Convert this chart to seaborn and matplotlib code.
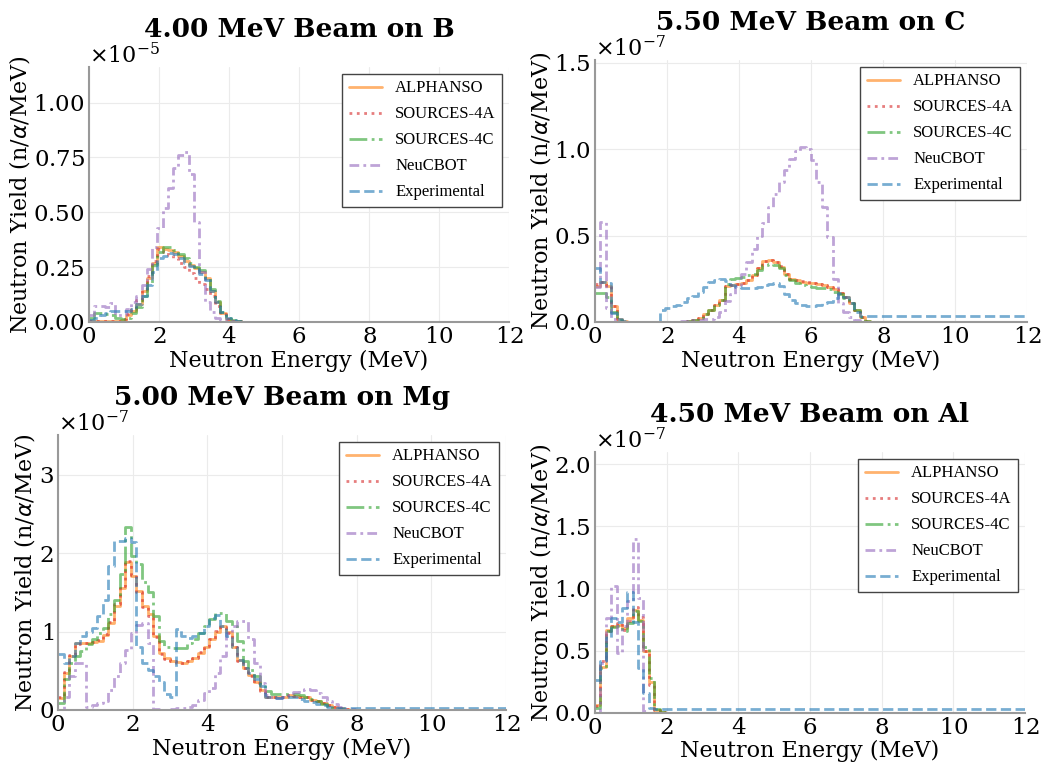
import numpy as np
import pandas as pd
import matplotlib
matplotlib.use("Agg")
import matplotlib.pyplot as plt
import seaborn as sns

# ---------------- data (bin width 0.15 MeV starting at 0; last value extends to 12 MeV) ----
BIN_WIDTH = 0.15
E_MAX = 12.0
series_names = ["ALPHANSO", "SOURCES-4A", "SOURCES-4C", "NeuCBOT", "Experimental"]
titles = ["4.00 MeV Beam on B", "5.50 MeV Beam on C", "5.00 MeV Beam on Mg", "4.50 MeV Beam on Al"]
scales = [1e-5, 1e-7, 1e-7, 1e-7]
yticks_list = [[0, 0.25, 0.5, 0.75, 1.0], [0, 0.5, 1.0, 1.5], [0, 1, 2, 3], [0, 0.5, 1.0, 1.5, 2.0]]
xticks = [0, 2, 4, 6, 8, 10, 12]

# Boron (x1e-5)
b_alphanso = [0.005, 0.005, 0.005, 0.005, 0.005, 0.005, 0.01, 0.03, 0.05, 0.08, 0.14, 0.20, 0.27,
              0.34, 0.335, 0.33, 0.32, 0.30, 0.28, 0.26, 0.245, 0.23, 0.20, 0.142, 0.09, 0.04,
              0.015, 0.006, 0.003, 0.002, 0.0]
b_s4a = [0.005, 0.005, 0.005, 0.005, 0.005, 0.005, 0.015, 0.035, 0.06, 0.10, 0.15, 0.21, 0.28,
         0.335, 0.32, 0.305, 0.29, 0.27, 0.25, 0.225, 0.20, 0.175, 0.15, 0.12, 0.075, 0.035,
         0.012, 0.005, 0.003, 0.002, 0.0]
b_s4c = [0.02, 0.04, 0.04, 0.035, 0.03, 0.02, 0.015, 0.02, 0.04, 0.07, 0.12, 0.18, 0.26,
         0.32, 0.34, 0.34, 0.33, 0.31, 0.29, 0.27, 0.25, 0.235, 0.20, 0.15, 0.095, 0.045,
         0.018, 0.007, 0.003, 0.002, 0.0]
b_neucbot = [0.03, 0.075, 0.075, 0.07, 0.085, 0.03, 0.03, 0.06, 0.09, 0.12, 0.17, 0.24, 0.34,
             0.43, 0.52, 0.61, 0.70, 0.76, 0.775, 0.675, 0.456, 0.23, 0.09, 0.045, 0.02, 0.01,
             0.005, 0.003, 0.0]
b_exp = [0.01, 0.02, 0.03, 0.04, 0.05, 0.05, 0.05, 0.05, 0.06, 0.08, 0.12, 0.17, 0.23,
         0.29, 0.30, 0.315, 0.31, 0.29, 0.27, 0.255, 0.24, 0.22, 0.19, 0.14, 0.09, 0.045,
         0.02, 0.008, 0.004, 0.002, 0.0]

# Carbon (x1e-7)
c_alphanso = [0.21, 0.23, 0.21, 0.09, 0.015, 0.003, 0, 0, 0, 0, 0, 0, 0, 0, 0, 0, 0,
              0.005, 0.012, 0.025, 0.045, 0.07, 0.10, 0.13, 0.21, 0.215, 0.22, 0.225, 0.24,
              0.27, 0.31, 0.35, 0.357, 0.345, 0.32, 0.28, 0.25, 0.24, 0.232, 0.228, 0.223,
              0.219, 0.213, 0.204, 0.19, 0.165, 0.146, 0.108, 0.07, 0.03, 0.005, 0.0]
c_s4a = [0.22, 0.23, 0.215, 0.09, 0.015, 0.003, 0, 0, 0, 0, 0, 0, 0, 0, 0, 0, 0,
         0.005, 0.012, 0.025, 0.045, 0.07, 0.10, 0.13, 0.21, 0.215, 0.22, 0.228, 0.24,
         0.27, 0.315, 0.35, 0.36, 0.345, 0.325, 0.28, 0.25, 0.242, 0.235, 0.23, 0.225,
         0.22, 0.215, 0.205, 0.19, 0.165, 0.146, 0.108, 0.07, 0.03, 0.005, 0.0]
c_s4c = [0.165, 0.165, 0.146, 0.06, 0.01, 0.002, 0, 0, 0, 0, 0, 0, 0, 0, 0, 0, 0,
         0.005, 0.012, 0.025, 0.045, 0.07, 0.10, 0.13, 0.22, 0.25, 0.255, 0.26, 0.27,
         0.28, 0.30, 0.33, 0.338, 0.33, 0.31, 0.27, 0.24, 0.223, 0.213, 0.207, 0.204,
         0.198, 0.194, 0.188, 0.175, 0.16, 0.136, 0.108, 0.07, 0.03, 0.005, 0.0]
c_neucbot = [0.2, 0.58, 0.08, 0.02, 0, 0, 0, 0, 0, 0, 0, 0, 0, 0, 0, 0,
             0.005, 0.008, 0.01, 0.012, 0.015, 0.02, 0.03, 0.06, 0.12, 0.16, 0.21, 0.28,
             0.348, 0.42, 0.50, 0.575, 0.665, 0.74, 0.81, 0.88, 0.94, 0.99, 1.01, 1.0,
             0.935, 0.81, 0.665, 0.49, 0.25, 0.108, 0.06, 0.03, 0.01, 0.0]
c_exp = [0.31, 0.23, 0.227, 0.05, 0.015, 0.003, 0, 0, 0, 0, 0, 0,
         0.07, 0.08, 0.09, 0.10, 0.117, 0.136, 0.15, 0.175, 0.20, 0.23, 0.245, 0.25,
         0.235, 0.213, 0.20, 0.196, 0.196, 0.198, 0.205, 0.213, 0.218, 0.223, 0.21, 0.16,
         0.13, 0.11, 0.10, 0.095, 0.095, 0.10, 0.108, 0.117, 0.136, 0.165, 0.145, 0.108,
         0.06, 0.035]

# Magnesium (x1e-7)
mg_alphanso = [0.15, 0.47, 0.69, 0.85, 0.85, 0.86, 0.87, 0.88, 0.96, 1.11, 1.33, 1.56, 1.885,
               1.71, 1.52, 1.33, 1.22, 0.94, 0.73, 0.66, 0.63, 0.61, 0.60, 0.62, 0.66, 0.73,
               0.81, 0.90, 1.00, 1.07, 0.99, 0.81, 0.64, 0.54, 0.45, 0.36, 0.25, 0.17, 0.16,
               0.16, 0.17, 0.19, 0.18, 0.17, 0.16, 0.13, 0.11, 0.09, 0.06, 0.04, 0.02, 0.01,
               0.005, 0.0]
mg_s4a = [0.16, 0.48, 0.70, 0.84, 0.85, 0.86, 0.87, 0.89, 0.97, 1.12, 1.35, 1.58, 1.90,
          1.72, 1.50, 1.32, 1.20, 0.93, 0.72, 0.65, 0.62, 0.60, 0.60, 0.62, 0.67, 0.74,
          0.82, 0.91, 1.01, 1.06, 0.98, 0.80, 0.63, 0.53, 0.44, 0.35, 0.24, 0.17, 0.16,
          0.16, 0.17, 0.19, 0.18, 0.17, 0.16, 0.13, 0.11, 0.09, 0.06, 0.04, 0.02, 0.01,
          0.005, 0.0]
mg_s4c = [0.085, 0.39, 0.60, 0.69, 0.75, 0.84, 0.90, 0.985, 1.05, 1.22, 1.41, 1.74, 2.34,
          1.97, 1.86, 1.63, 1.50, 1.20, 0.88, 0.81, 0.79, 0.79, 0.79, 0.86, 0.90, 0.985,
          1.07, 1.16, 1.24, 1.24, 1.135, 1.07, 0.88, 0.62, 0.51, 0.43, 0.32, 0.24, 0.21,
          0.20, 0.20, 0.21, 0.20, 0.19, 0.17, 0.14, 0.11, 0.08, 0.05, 0.03, 0.015, 0.006,
          0.0]
mg_neucbot = [0.0, 0.17, 0.43, 0.60, 0.60, 0.04, 0.07, 0.09, 0.12, 0.26, 0.43, 0.60, 0.77,
              0.985, 1.09, 1.11, 0.86, 0.01, 0.005, 0.005, 0.01, 0.02, 0.03, 0.04, 0.06,
              0.13, 0.22, 0.28, 0.47, 0.69, 0.985, 1.07, 1.135, 1.135, 0.90, 0.60, 0.35,
              0.19, 0.16, 0.15, 0.17, 0.19, 0.235, 0.257, 0.265, 0.257, 0.22, 0.17, 0.12,
              0.077, 0.034, 0.017, 0.008, 0.0]
mg_exp = [0.71, 0.60, 0.69, 0.86, 0.94, 1.00, 1.05, 1.20, 1.41, 1.84, 2.16, 2.16, 2.19,
          2.14, 0.80, 0.60, 0.51, 0.43, 0.36, 0.21, 0.17, 1.03, 0.94, 0.92, 0.94, 0.985,
          1.07, 1.18, 1.21, 1.07, 0.94, 0.81, 0.64, 0.54, 0.47, 0.39, 0.30, 0.17, 0.16,
          0.15, 0.16, 0.17, 0.16, 0.14, 0.12, 0.10, 0.08, 0.06, 0.04, 0.02]

# Aluminium (x1e-7)
al_alphanso = [0.062, 0.37, 0.67, 0.70, 0.707, 0.68, 0.76, 0.83, 0.75, 0.50, 0.25, 0.02, 0.005, 0.0]
al_s4a = [0.05, 0.42, 0.66, 0.70, 0.72, 0.67, 0.74, 0.85, 0.77, 0.50, 0.22, 0.02, 0.005, 0.0]
al_s4c = [0.04, 0.36, 0.66, 0.69, 0.70, 0.66, 0.72, 0.82, 0.74, 0.53, 0.28, 0.03, 0.005, 0.0]
al_neucbot = [0.0, 0.40, 0.76, 1.02, 0.48, 0.70, 0.90, 1.40, 0.92, 0.01, 0.0]
al_exp = [0.26, 0.42, 0.60, 0.76, 0.73, 0.84, 0.975, 0.73, 0.36, 0.155, 0.035, 0.03]

panels = [
    [b_alphanso, b_s4a, b_s4c, b_neucbot, b_exp],
    [c_alphanso, c_s4a, c_s4c, c_neucbot, c_exp],
    [mg_alphanso, mg_s4a, mg_s4c, mg_neucbot, mg_exp],
    [al_alphanso, al_s4a, al_s4c, al_neucbot, al_exp],
]

# ---------------- styling ----------------
sns.set_theme(style="whitegrid")
plt.rcParams["font.family"] = ["DejaVu Serif"]
plt.rcParams["mathtext.fontset"] = "dejavusans"
plt.rcParams["axes.formatter.use_mathtext"] = True
for key in ["text.color", "axes.labelcolor", "xtick.color", "ytick.color"]:
    plt.rcParams[key] = "black"

colors = ["#ff7f0e", "#d62728", "#2ca02c", "#9467bd", "#1f77b4"]
linestyles = ["-", ":", "-.", (0, (3.5, 1.5, 1, 1.5)), "--"]

fig = plt.figure(figsize=(10.46, 7.69), dpi=100)
W, H = 1046, 769
rects = [
    (89, 67, 509, 322),
    (595, 60, 1027, 322),
    (58, 435, 506, 710),
    (595, 452, 1025, 712.7),
]

for k, (l, t, r, b) in enumerate(rects):
    ax = fig.add_axes([l / W, (H - b) / H, (r - l) / W, (b - t) / H])
    sc = scales[k]
    ymax = 0
    for name, vals, col, ls in zip(series_names, panels[k], colors, linestyles):
        xs = [i * BIN_WIDTH for i in range(len(vals))] + [E_MAX]
        ys = [v * sc for v in vals] + [vals[-1] * sc]
        df = pd.DataFrame({"E": xs, "Y": ys})
        sns.lineplot(data=df, x="E", y="Y", ax=ax, drawstyle="steps-post",
                     color=col, linestyle=ls, linewidth=2, alpha=0.6, label=name,
                     sort=False, errorbar=None)
        ymax = max(ymax, max(vals) * sc)
    ax.set_xlim(0, 12)
    ax.set_ylim(0, 1.5 * ymax)
    ax.set_xticks(xticks)
    ax.set_yticks([v * sc for v in yticks_list[k]])
    ax.tick_params(labelsize=16.5, length=0, pad=3)
    ax.yaxis.get_offset_text().set_fontsize(16)
    ax.set_xlabel("Neutron Energy (MeV)", fontsize=16, labelpad=1)
    ax.set_ylabel(r"Neutron Yield (n/$\alpha$/MeV)", fontsize=16, labelpad=1)
    ax.set_title(titles[k], fontsize=19, fontweight="bold", pad=4)
    ax.grid(True, color="#ebebeb", linewidth=0.8)
    sns.despine(ax=ax)
    for sp in ["left", "bottom"]:
        ax.spines[sp].set_color("#999999")
        ax.spines[sp].set_linewidth(1.5)
    leg = ax.legend(loc="upper right", prop={"family": "Liberation Serif", "size": 12},
                    fancybox=False, framealpha=1, edgecolor="#444444",
                    handlelength=2.0, labelspacing=0.6, borderaxespad=0.4)
    leg.get_frame().set_linewidth(1.0)

fig.savefig("out.png", dpi=100)
